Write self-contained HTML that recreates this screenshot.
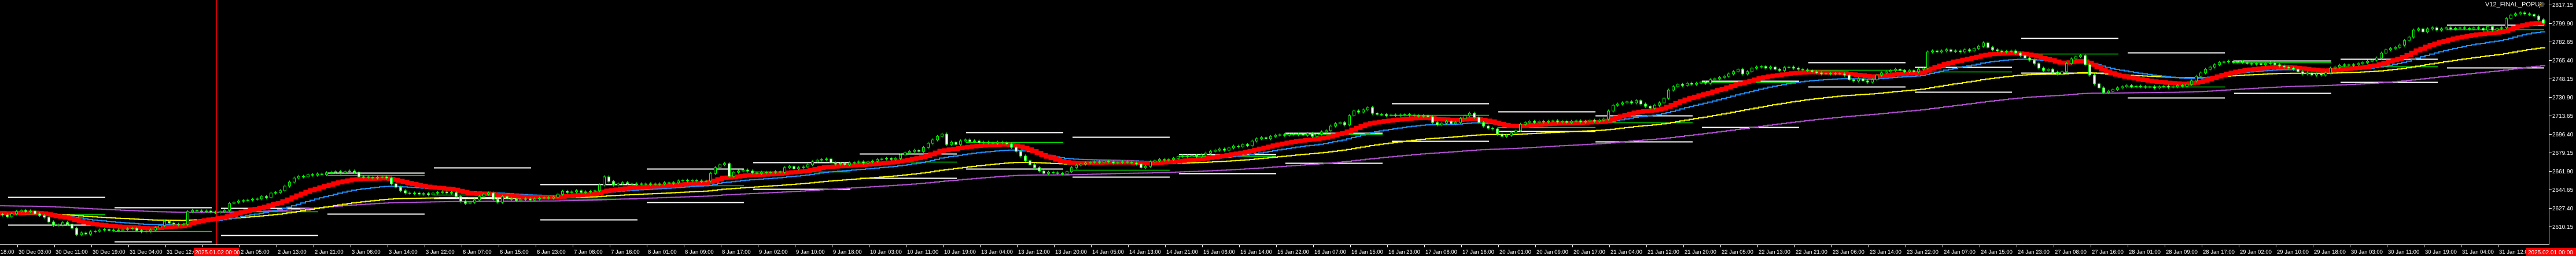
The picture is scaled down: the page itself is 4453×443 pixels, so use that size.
<!DOCTYPE html>
<html><head><meta charset="utf-8">
<style>
html,body{margin:0;padding:0;background:#000;}
body{width:4453px;height:443px;overflow:hidden;}
svg{display:block;}
text{font-family:"Liberation Sans",sans-serif;fill:#fff;}
</style></head>
<body>
<svg id="chart" width="4453" height="443" xmlns="http://www.w3.org/2000/svg">
  <rect x="0" y="0" width="4453" height="443" fill="#000"/>
  <g id="levels"></g>
  <g id="mas"></g>
  <g id="candles"></g>
  <line x1="374.5" y1="0" x2="374.5" y2="423" stroke="#ff0000" stroke-width="1"/>
  <line x1="4406.5" y1="0" x2="4406.5" y2="423" stroke="#fff" stroke-width="1"/>
  <line x1="0" y1="423.5" x2="4407" y2="423.5" stroke="#fff" stroke-width="1"/>
  <g id="yaxis"></g>
  <g id="xaxis"></g>
  <rect x="335" y="429" width="78" height="14" fill="#ff0000"/>
  <text x="337" y="440" font-size="10">2025.01.02 00:00</text>
  <rect x="4367" y="429" width="86" height="14" fill="#ff0000"/>
  <text x="4370" y="440" font-size="10">2025.02.01 00:00</text>
  <text x="4296" y="11" font-size="11">V12_FINAL_POPUP</text>
  <text x="4387" y="12" font-size="11" style="fill:#6ab0e0">🎓</text>
</svg>
<script>
const closes = [
2620.9,2619.3,2622.0,2624.1,2625.2,2624.1,2624.7,2622.0,2620.4,2618.8,2614.4,2611.2,2611.7,2613.9,2612.3,2608.5,2602.6,2604.2,2603.1,2605.3,
2605.8,2606.9,2607.4,2606.4,2606.9,2606.4,2607.4,2608.0,2608.5,2606.4,2605.3,2605.8,2606.9,2609.0,2611.2,2615.0,2613.4,2612.3,2611.7,2612.3,
2624.1,2625.2,2624.7,2624.1,2624.7,2623.6,2623.1,2624.1,2625.2,2631.7,2632.8,2633.8,2634.4,2634.9,2635.5,2636.0,2638.2,2637.1,2641.4,2641.9,
2643.6,2647.9,2651.6,2655.4,2657.0,2656.5,2658.6,2658.1,2659.2,2658.6,2660.3,2660.8,2661.4,2660.3,2661.4,2661.9,2660.8,2656.5,2656.5,2656.0,
2655.4,2656.0,2656.5,2655.4,2650.0,2646.8,2643.6,2641.4,2640.9,2641.4,2640.3,2640.9,2639.8,2641.4,2641.9,2642.5,2641.4,2641.9,2638.2,2633.8,
2631.7,2632.8,2634.9,2638.2,2640.3,2641.4,2635.5,2632.8,2638.2,2636.0,2635.5,2634.4,2635.5,2636.0,2634.9,2636.0,2636.6,2637.1,2636.6,2637.6,
2640.3,2643.0,2641.9,2642.5,2643.6,2641.9,2642.5,2643.0,2643.6,2648.9,2656.5,2652.2,2648.9,2650.0,2651.1,2650.0,2649.5,2650.0,2650.0,2649.5,
2650.0,2649.5,2650.0,2651.1,2650.5,2651.1,2652.7,2653.3,2652.7,2653.3,2652.7,2652.2,2652.7,2659.7,2665.1,2667.8,2668.9,2657.0,2660.8,2661.9,
2662.9,2661.9,2660.3,2659.7,2660.8,2660.3,2660.8,2661.4,2660.8,2665.1,2666.2,2664.0,2665.1,2665.7,2667.8,2670.5,2672.1,2672.7,2673.2,2669.4,
2668.4,2668.9,2667.8,2669.4,2670.0,2670.5,2669.4,2670.5,2671.1,2672.7,2673.2,2673.7,2672.7,2673.7,2677.0,2679.1,2680.2,2681.3,2680.2,2683.9,
2687.8,2691.0,2694.2,2696.4,2686.7,2688.8,2686.7,2690.0,2691.0,2689.4,2690.0,2688.3,2688.8,2688.3,2687.8,2688.8,2688.3,2687.2,2684.0,2680.2,
2675.9,2671.6,2667.8,2665.1,2661.9,2659.7,2660.8,2660.3,2659.7,2659.2,2661.4,2665.1,2667.3,2668.4,2669.4,2670.0,2670.5,2670.0,2671.1,2670.5,
2669.4,2670.0,2670.5,2670.0,2669.4,2668.4,2665.1,2666.2,2670.5,2671.6,2672.7,2672.1,2672.7,2673.7,2675.4,2675.9,2675.4,2676.4,2675.4,2677.0,
2678.6,2680.2,2681.3,2682.4,2681.3,2683.5,2685.1,2684.5,2686.7,2685.6,2689.9,2692.1,2693.1,2692.1,2694.2,2695.3,2695.8,2695.3,2696.4,2695.8,
2696.4,2695.3,2697.0,2694.2,2696.4,2698.5,2699.6,2703.9,2706.1,2707.2,2705.0,2713.6,2718.0,2716.9,2719.0,2721.2,2715.8,2714.7,2714.7,2713.6,
2714.2,2713.6,2714.2,2714.7,2714.2,2713.6,2713.1,2713.6,2712.6,2707.2,2705.0,2706.6,2708.3,2706.1,2707.2,2710.9,2713.6,2715.8,2712.0,2707.2,
2703.9,2701.8,2701.2,2696.4,2694.2,2695.3,2697.5,2699.6,2705.5,2707.2,2708.3,2707.2,2708.3,2707.7,2708.3,2708.8,2707.7,2708.3,2707.2,2708.3,
2708.8,2707.7,2708.3,2709.3,2708.3,2709.3,2710.4,2717.9,2723.3,2724.4,2725.5,2726.6,2725.5,2727.7,2724.4,2722.3,2720.6,2723.3,2725.5,2729.8,
2737.4,2740.6,2742.8,2741.7,2743.8,2742.8,2743.8,2744.9,2743.8,2747.1,2748.1,2749.2,2750.3,2752.5,2754.6,2756.8,2752.5,2754.6,2757.9,2758.9,
2759.5,2757.9,2758.9,2756.8,2755.7,2758.4,2758.9,2757.9,2756.8,2756.2,2755.7,2754.6,2753.5,2752.5,2753.0,2752.5,2753.0,2752.5,2751.4,2747.1,
2746.0,2748.1,2746.0,2744.9,2747.1,2751.4,2753.5,2754.6,2755.7,2756.8,2755.7,2754.6,2755.7,2754.6,2756.8,2757.9,2773.0,2774.0,2773.0,2774.0,
2775.1,2773.5,2774.0,2773.0,2775.1,2774.0,2776.2,2778.3,2781.5,2777.2,2775.1,2774.0,2773.0,2773.5,2774.0,2771.9,2769.7,2767.4,2765.4,2762.2,
2757.9,2755.7,2756.8,2754.1,2752.5,2754.6,2762.2,2766.5,2768.6,2769.7,2761.1,2751.4,2743.3,2739.5,2735.2,2736.3,2737.9,2739.5,2740.6,2741.7,
2740.6,2741.1,2740.6,2740.1,2740.6,2739.5,2740.6,2741.1,2740.1,2740.6,2741.7,2741.1,2742.8,2746.0,2750.3,2753.5,2756.8,2758.9,2761.1,2763.2,
2763.8,2764.3,2763.2,2763.8,2763.2,2762.2,2761.6,2762.2,2761.1,2762.2,2762.7,2761.1,2760.0,2758.9,2757.9,2756.8,2754.6,2752.5,2753.5,2751.4,
2752.5,2751.4,2753.5,2757.9,2758.9,2760.5,2761.1,2760.5,2761.1,2762.2,2763.2,2764.3,2765.4,2767.4,2771.9,2775.1,2776.2,2777.2,2779.4,2783.7,
2786.9,2793.4,2794.5,2791.8,2794.5,2795.6,2793.4,2794.5,2795.6,2794.5,2795.0,2795.6,2795.0,2794.5,2795.6,2795.0,2793.4,2796.7,2793.4,2795.0,
2795.6,2804.2,2807.4,2808.5,2809.6,2808.5,2808.0,2806.4,2803.1,2799.9
];
const levelHigh = [2637.6,2627.9,2627.4,2660.3,2665.1,2649.5,2664.0,2670.0,2678.1,2698.0,2693.7,2677.5,2697.5,2724.9,2717.4,2713.6,2746.0,2763.2,2758.9,2785.9,2772.4,2764.9,2766.5,2798.3];
const levelLow  = [2611.7,2596.1,2602.0,2622.0,2636.6,2616.6,2632.8,2645.2,2655.4,2664.0,2656.5,2659.7,2669.4,2689.9,2699.1,2689.4,2702.9,2740.6,2735.7,2753.5,2730.4,2734.7,2744.9,2758.4];
const levelMid  = [2621.5,2605.8,2624.1,2658.1,2639.8,2636.0,2648.4,2661.4,2670.5,2688.8,2662.9,2675.9,2696.4,2714.2,2702.9,2707.2,2744.9,2756.2,2754.6,2771.3,2740.6,2763.2,2759.5,2794.0];
const priceTicks = [2817.15,2799.90,2782.65,2765.40,2748.15,2730.90,2713.65,2696.40,2679.15,2661.90,2644.65,2627.40,2610.15];
const timeLabels = ["29 Dec 18:00","30 Dec 03:00","30 Dec 11:00","30 Dec 19:00","31 Dec 04:00","31 Dec 12:00","31 Dec 20:00",
"2 Jan 05:00","2 Jan 13:00","2 Jan 21:00","3 Jan 06:00","3 Jan 14:00","3 Jan 22:00","6 Jan 07:00","6 Jan 15:00","6 Jan 23:00",
"7 Jan 08:00","7 Jan 16:00","8 Jan 01:00","8 Jan 09:00","8 Jan 17:00","9 Jan 02:00","9 Jan 10:00","9 Jan 18:00","10 Jan 03:00",
"10 Jan 11:00","10 Jan 19:00","13 Jan 04:00","13 Jan 12:00","13 Jan 20:00","14 Jan 05:00","14 Jan 13:00","14 Jan 21:00",
"15 Jan 06:00","15 Jan 14:00","15 Jan 22:00","16 Jan 07:00","16 Jan 15:00","16 Jan 23:00","17 Jan 08:00","17 Jan 16:00",
"20 Jan 01:00","20 Jan 09:00","20 Jan 17:00","21 Jan 04:00","21 Jan 12:00","21 Jan 20:00","22 Jan 05:00","22 Jan 13:00",
"22 Jan 21:00","23 Jan 06:00","23 Jan 14:00","23 Jan 22:00","24 Jan 07:00","24 Jan 15:00","24 Jan 23:00","27 Jan 08:00",
"27 Jan 16:00","28 Jan 01:00","28 Jan 09:00","28 Jan 17:00","29 Jan 02:00","29 Jan 10:00","29 Jan 18:00","30 Jan 03:00",
"30 Jan 11:00","30 Jan 19:00","31 Jan 04:00","31 Jan 12:00"];
const maPeriods = [20, 40, 95, 190];
const maSeeds = [2623.1, 2622.5, 2622.0, 2629.6];

const NS = "http://www.w3.org/2000/svg";
function yOf(p){ return 8 + (2817.15 - p) * 32 / 17.25; }
function xOf(i){ return 4 + i * 8; }
function mk(tag, attrs, parent){ const e = document.createElementNS(NS, tag); for (const k in attrs) e.setAttribute(k, attrs[k]); parent.appendChild(e); return e; }

// levels
const lv = document.getElementById('levels');
for (let k = 0; k < levelHigh.length; k++) {
  const x0 = 14 + k * 184 - (k >= 15 ? 16 : 0), x1 = x0 + 168;
  const a = mk('line', {x1:x0, x2:x1, y1:Math.round(yOf(levelHigh[k]))+0.5, y2:Math.round(yOf(levelHigh[k]))+0.5, stroke:'#fff', 'stroke-width':2}, lv);
  
  
  const b = mk('line', {x1:x0, x2:x1, y1:Math.round(yOf(levelLow[k]))+0.5, y2:Math.round(yOf(levelLow[k]))+0.5, stroke:'#fff', 'stroke-width':2}, lv);
  
  
  const c = mk('line', {x1:x0, x2:x1, y1:Math.round(yOf(levelMid[k]))+0.5, y2:Math.round(yOf(levelMid[k]))+0.5, stroke:'#00e000', 'stroke-width':1.5}, lv);
  
  
}

// moving averages
const maColors = ['#ff0000', '#1e90ff', '#ffff00', '#b050d0'];
const maWidths = [7, 2, 2, 2];
const maNames = ['ma-fast-red', 'ma-blue', 'ma-yellow', 'ma-slow-purple'];
const mg = document.getElementById('mas');
for (let m = 3; m >= 0; m--) {
  const a = 2 / (maPeriods[m] + 1);
  let v = maSeeds[m], d = '';
  for (let i = 0; i < closes.length; i++) {
    v = v + a * (closes[i] - v);
    const y = yOf(v).toFixed(1);
    d += (i ? 'L' : 'M') + (xOf(i) - 4) + ' ' + y + 'L' + (xOf(i) + 4) + ' ' + y;
  }
  const p = mk('path', {d:d, fill:'none', stroke:maColors[m], 'stroke-width':maWidths[m], 'stroke-linejoin':'miter'}, mg);
  
  
}

// candles
const cg = document.getElementById('candles');
for (let i = 0; i < closes.length; i++) {
  const c = closes[i], o = i ? closes[i-1] : c + 0.8;
  const hi = Math.max(o, c) + 1.4, lo = Math.min(o, c) - 1.4;
  const x = xOf(i);
  const w = mk('line', {x1:x+0.5, x2:x+0.5, y1:yOf(hi), y2:yOf(lo), stroke:'#00ff00', 'stroke-width':1}, cg);
  
  
  const yt = yOf(Math.max(o, c)), yb = yOf(Math.min(o, c));
  const bull = c >= o;
  const r = mk('rect', {x:x-1.5, y:yt, width:4, height:Math.max(1, yb-yt), fill: bull ? '#000' : '#fff', stroke:'#00ff00', 'stroke-width':1}, cg);
  
  
}

// y axis
const ya = document.getElementById('yaxis');
for (const t of priceTicks) {
  const y = Math.round(yOf(t));
  const tk = mk('line', {x1:4406, x2:4411, y1:y+0.5, y2:y+0.5, stroke:'#fff', 'stroke-width':1}, ya);
  
  
  const tx = mk('text', {x:4412, y:y+4, 'font-size':10}, ya);
  tx.textContent = t.toFixed(2);
  
  
}

// x axis
const xa = document.getElementById('xaxis');
for (let k = 0; k < timeLabels.length; k++) {
  const x = 30 + (k - 1) * 64;
  const tk = mk('line', {x1:x+0.5, x2:x+0.5, y1:424, y2:428, stroke:'#fff', 'stroke-width':1}, xa);
  
  
  const tx = mk('text', {x:x+2, y:439, 'font-size':9.5}, xa);
  tx.textContent = timeLabels[k];
  
  
}
</script>
</body></html>
